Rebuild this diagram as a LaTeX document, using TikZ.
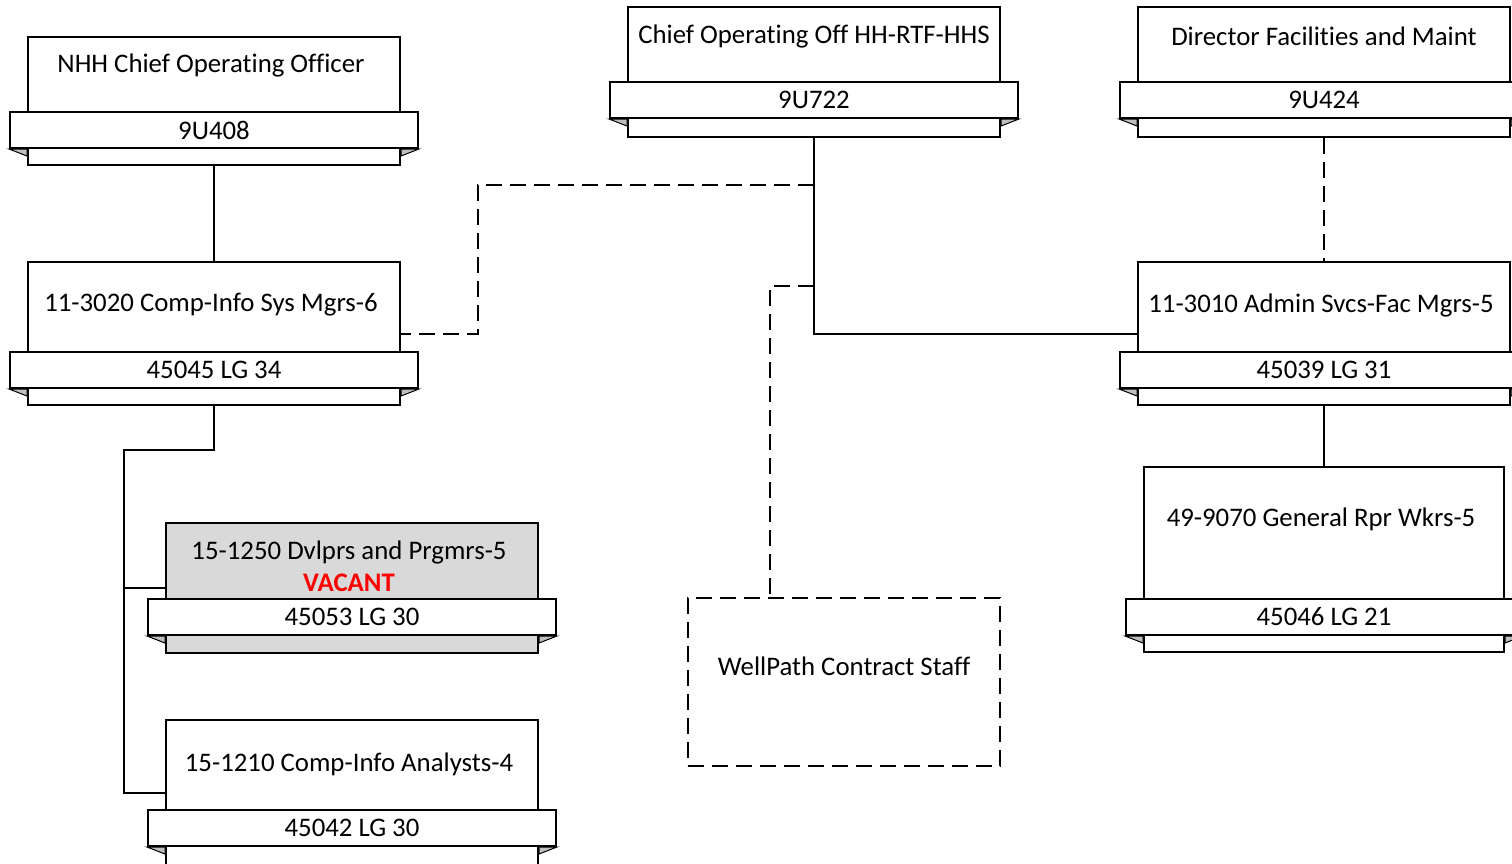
\documentclass[tikz,border=0pt]{standalone}
\usepackage{fontspec}
\setmainfont{Carlito}[Ligatures=NoCommon]
\usetikzlibrary{arrows}
\usetikzlibrary{positioning}

\begin{document}
\begin{tikzpicture}
	[x=1pt,y=-1pt,line width=2pt,
	every node/.style={inner sep=0pt,font=\fontsize{26.8}{30}\selectfont},
	post/.style={draw,fill=white,minimum width=372pt},
	band/.style={draw,fill=white,minimum width=408pt,minimum height=36pt},
	tail/.style={draw,fill=black!25,line width=1pt},
	dashline/.style={dash pattern=on 16pt off 8pt}]
	\useasboundingbox (0,0) rectangle (1512,863);

	% position boxes
	\node[post,minimum height=128pt] (nhh) at (214,101) {};
	\node[post,minimum height=143pt] (cis) at (214,333.5) {};
	\node[post,minimum height=130pt,fill=black!15] (dev) at (352,588) {};
	\node[post,minimum height=146pt] (ana) at (352,793) {};
	\node[post,minimum height=130pt] (coo) at (814,72) {};
	\node[post,minimum height=130pt] (dir) at (1324,72) {};
	\node[post,minimum height=143pt] (adm) at (1324,333.5) {};
	\node[post,minimum height=185pt,minimum width=360pt] (rpr) at (1324,559.5) {};
	\node[draw,dashline,minimum width=312pt,minimum height=168pt] (wp) at (844,682) {};

	% number bands
	\node[band] (nhh-b) at (214,130) {9U408};
	\node[band] (cis-b) at (214,370) {45045 LG 34};
	\node[band] (dev-b) at (352,617) {45053 LG 30};
	\node[band] (ana-b) at (352,828) {45042 LG 30};
	\node[band] (coo-b) at (814,100) {9U722};
	\node[band] (dir-b) at (1324,100) {9U424};
	\node[band] (adm-b) at (1324,370) {45039 LG 31};
	\node[band,minimum width=396pt] (rpr-b) at (1324,617) {45046 LG 21};

	\foreach \b in {nhh-b,cis-b,dev-b,ana-b,coo-b,dir-b,adm-b,rpr-b}
	{
	\draw[tail] (\b.south west) -- ++(18,0) -- ++(0,7) -- cycle;
	\draw[tail] (\b.south east) -- ++(-18,0) -- ++(0,7) -- cycle;
	}

	% titles
	\node (nhh-t) at (211,65) {NHH Chief Operating Officer};
	\node (cis-t) at (211,305) {11-3020 Comp-Info Sys Mgrs-6};
	\node (dev-t) at (349,552) {15-1250 Dvlprs and Prgmrs-5};
	\node[text=red,font=\fontsize{26.8}{30}\selectfont\bfseries] (dev-v) at (349,583) {VACANT};
	\node (ana-t) at (349,764) {15-1210 Comp-Info Analysts-4};
	\node (coo-t) at (814,36) {Chief Operating Off HH-RTF-HHS};
	\node (dir-t) at (1324,36) {Director Facilities and Maint};
	\node (adm-t) at (1321,305) {11-3010 Admin Svcs-Fac Mgrs-5};
	\node (rpr-t) at (1321,519) {49-9070 General Rpr Wkrs-5};
	\node (wp-t) at (844,666) {WellPath Contract Staff};

	% connectors
	\coordinate (j1) at (124,450);
	\coordinate (d1) at (814,185);
	\coordinate (d2) at (478,333.5);
	\coordinate (d3) at (814,286);
	\coordinate (d4) at (770,598);

	\foreach \from/\to in {nhh/cis, adm/rpr}
	\draw (\from.south) -- (\to.north);
	\draw (cis.south) |- (j1) |- (dev.west);
	\draw (j1) |- (ana.west);
	\draw (coo.south) |- (adm.west);

	\draw[dashline] (dir.south) -- (adm.north);
	\draw[dashline] (d1) -| (d2) -- (cis.east);
	\draw[dashline] (d3) -| (d4);
\end{tikzpicture}
\end{document}
